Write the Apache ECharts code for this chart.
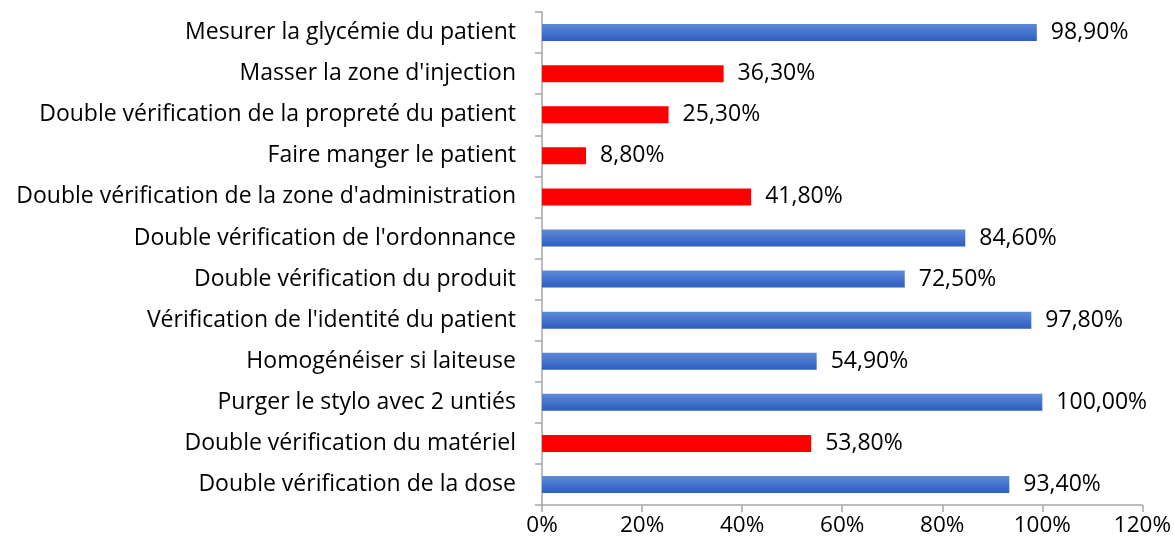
<!DOCTYPE html>
<html>
<head>
<meta charset="utf-8">
<script src="https://cdn.jsdelivr.net/npm/echarts@6/dist/echarts.min.js"></script>
<style>
  html, body { margin: 0; padding: 0; background: #fff; }
  #chart { width: 1174px; height: 548px; }
</style>
</head>
<body>
<div id="chart"></div>
<script>
// catégories de haut en bas
var categories = [
  "Mesurer la glycémie du patient",
  "Masser la zone d'injection",
  "Double vérification de la propreté du patient",
  "Faire manger le patient",
  "Double vérification de la zone d'administration",
  "Double vérification de l'ordonnance",
  "Double vérification du produit",
  "Vérification de l'identité du patient",
  "Homogénéiser si laiteuse",
  "Purger le stylo avec 2 untiés",
  "Double vérification du matériel",
  "Double vérification de la dose"
];
var values = [98.9, 36.3, 25.3, 8.8, 41.8, 84.6, 72.5, 97.8, 54.9, 100.0, 53.8, 93.4];
// barres en rouge
var highlighted = [false, true, true, true, true, false, false, false, false, false, true, false];
var xTicks = [0, 20, 40, 60, 80, 100, 120];

var blue = new echarts.graphic.LinearGradient(0, 0, 0, 1, [
  { offset: 0, color: "#5f8ad9" },
  { offset: 1, color: "#2b5ebf" }
]);

var chart = echarts.init(document.getElementById("chart"));
var font = "'Open Sans', sans-serif";
var option = {
  animation: false,
  grid: { left: 542, right: 31, top: 12, bottom: 43, containLabel: false },
  xAxis: {
    type: "value",
    min: xTicks[0],
    max: xTicks[xTicks.length - 1],
    interval: 20,
    axisLine: { show: true, lineStyle: { color: "#a6a6a6", width: 1.5 } },
    axisTick: { show: true, length: 7, lineStyle: { color: "#a6a6a6", width: 1.5 } },
    splitLine: { show: false },
    axisLabel: {
      color: "#000",
      fontSize: 22.5,
      fontFamily: font,
      margin: 9,
      formatter: function (v) { return v + "%"; }
    }
  },
  yAxis: {
    type: "category",
    inverse: true,
    data: categories,
    axisLine: { show: true, lineStyle: { color: "#a6a6a6", width: 1.5 } },
    axisTick: { show: true, length: 7, alignWithLabel: false, lineStyle: { color: "#a6a6a6", width: 1.5 } },
    axisLabel: { color: "#000", fontSize: 23, fontFamily: font, margin: 26 }
  },
  series: [
    {
      type: "bar",
      barWidth: 17,
      data: values.map(function (v, i) {
        return { value: v, itemStyle: { color: highlighted[i] ? "#ff0000" : blue } };
      }),
      label: {
        show: true,
        position: "right",
        distance: 14,
        color: "#000",
        fontSize: 23,
        fontFamily: font,
        formatter: function (p) { return p.value.toFixed(2).replace(".", ",") + "%"; }
      }
    }
  ]
};
chart.setOption(option);
</script>
</body>
</html>
